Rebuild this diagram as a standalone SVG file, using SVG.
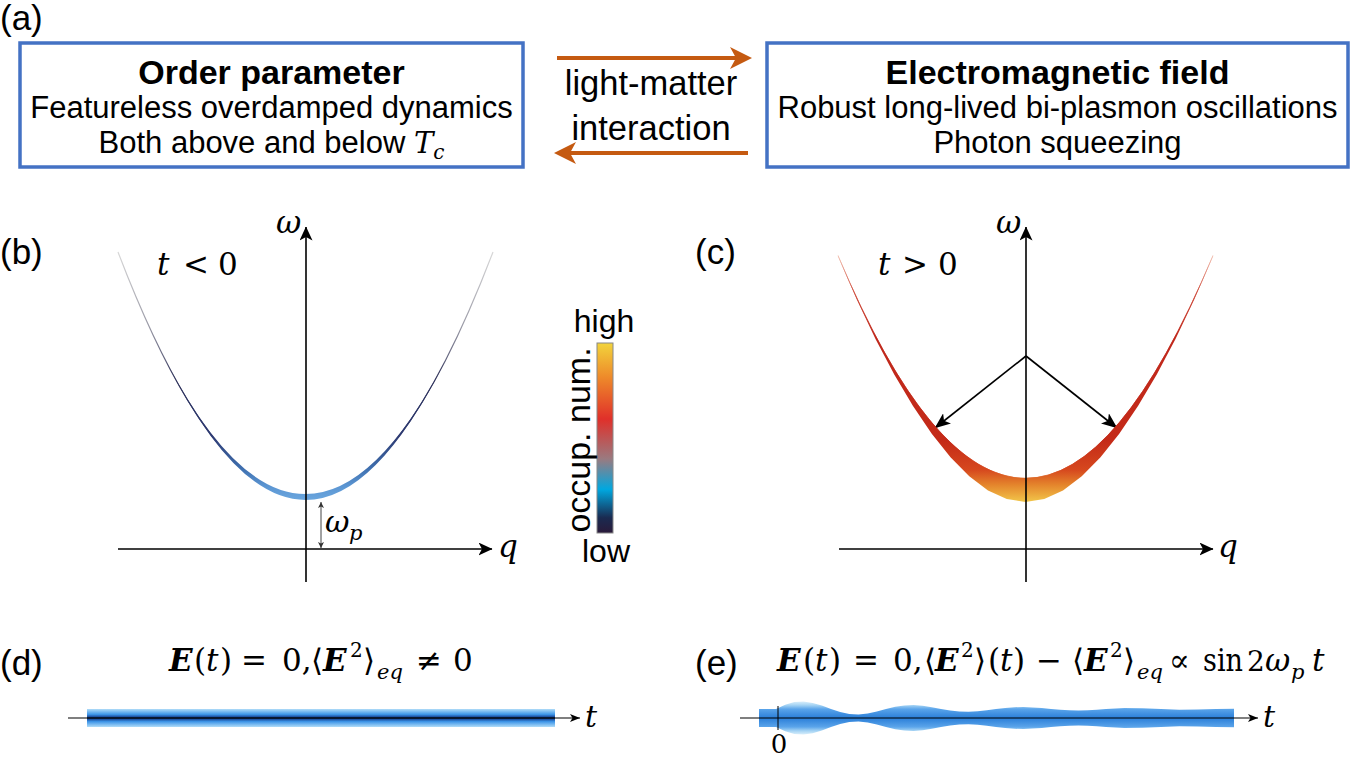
<svg xmlns="http://www.w3.org/2000/svg" width="1352" height="757" viewBox="0 0 1352 757">
<style>
.box{fill:#fff;stroke:#4472c4;stroke-width:3.5}
.sans{font-family:"Liberation Sans",Arial,sans-serif;fill:#000}
.math{font-family:"DejaVu Serif","Liberation Serif",serif;fill:#000}
.it{font-style:italic}
.bi{font-style:italic;font-weight:bold}
.ax{stroke:#000;stroke-width:1.6;fill:none}
.lab{font-size:35px}
.orange{stroke:#c55a11;stroke-width:4;fill:none}
</style>
<defs>
<marker id="ah" viewBox="0 0 14 13" refX="13.5" refY="6.5" markerWidth="14" markerHeight="13" orient="auto" markerUnits="userSpaceOnUse"><path d="M0,0 L14,6.5 L0,13 L3.5,6.5 Z" fill="#000"/></marker>
<marker id="ah2" viewBox="0 0 16 13" refX="15.5" refY="6.5" markerWidth="16" markerHeight="13" orient="auto" markerUnits="userSpaceOnUse"><path d="M0,0 L16,6.5 L0,13 L4,6.5 Z" fill="#000"/></marker>
<marker id="ahs" viewBox="0 0 6 6" refX="6" refY="3" markerWidth="6" markerHeight="6" orient="auto-start-reverse" markerUnits="userSpaceOnUse"><path d="M0,0 L6,3 L0,6 L1.5,3 Z" fill="#333"/></marker>
<marker id="aht" viewBox="0 0 10 8" refX="10" refY="4" markerWidth="10" markerHeight="8" orient="auto" markerUnits="userSpaceOnUse"><path d="M0,0 L10,4 L0,8 L2.5,4 Z" fill="#000"/></marker>
<linearGradient id="gb-line" gradientUnits="userSpaceOnUse" x1="0" y1="252" x2="0" y2="497">
<stop offset="0" stop-color="#d8d8d8"/><stop offset="0.3" stop-color="#9a9aa6"/><stop offset="0.55" stop-color="#34365c"/><stop offset="0.8" stop-color="#2c3a70"/><stop offset="1" stop-color="#5b95d2"/>
</linearGradient>
<linearGradient id="gb-fill" gradientUnits="userSpaceOnUse" x1="0" y1="359" x2="0" y2="500">
<stop offset="0" stop-color="#2b2d55"/><stop offset="0.55" stop-color="#2d3a72"/><stop offset="0.78" stop-color="#3f70b0"/><stop offset="0.9" stop-color="#5b95d2"/><stop offset="1" stop-color="#6aa6de"/>
</linearGradient>
<linearGradient id="gc" gradientUnits="userSpaceOnUse" x1="0" y1="255" x2="0" y2="502">
<stop offset="0" stop-color="#f2c0b0"/><stop offset="0.14" stop-color="#d05040"/><stop offset="0.34" stop-color="#c0281c"/><stop offset="0.75" stop-color="#c42a18"/><stop offset="0.87" stop-color="#d6481e"/><stop offset="0.93" stop-color="#e4842c"/><stop offset="1" stop-color="#f2c64a"/>
</linearGradient>
<linearGradient id="gbar" x1="0" y1="0" x2="0" y2="1">
<stop offset="0" stop-color="#f2d43c"/><stop offset="0.18" stop-color="#ee8a2a"/><stop offset="0.4" stop-color="#e0302a"/><stop offset="0.61" stop-color="#9a7a80"/><stop offset="0.77" stop-color="#00a8e0"/><stop offset="0.92" stop-color="#1a2a50"/><stop offset="1" stop-color="#2a1a3a"/>
</linearGradient>
<linearGradient id="gd" gradientUnits="userSpaceOnUse" x1="0" y1="709" x2="0" y2="727">
<stop offset="0" stop-color="#b0dcf8"/><stop offset="0.3" stop-color="#3d95e8"/><stop offset="0.44" stop-color="#1a4a9a"/><stop offset="0.5" stop-color="#0a1530"/><stop offset="0.56" stop-color="#1a4a9a"/><stop offset="0.7" stop-color="#3d95e8"/><stop offset="1" stop-color="#b0dcf8"/>
</linearGradient>
<linearGradient id="ge" gradientUnits="userSpaceOnUse" x1="0" y1="701" x2="0" y2="735">
<stop offset="0" stop-color="#e0f2fc"/><stop offset="0.12" stop-color="#a6d4f4"/><stop offset="0.24" stop-color="#5aa4ea"/><stop offset="0.5" stop-color="#2a7ed8"/><stop offset="0.76" stop-color="#5aa4ea"/><stop offset="0.88" stop-color="#a6d4f4"/><stop offset="1" stop-color="#e0f2fc"/>
</linearGradient>
</defs>
<rect width="1352" height="757" fill="#fff"/>

<text class="sans lab" x="0" y="30">(a)</text>

<g id="order-parameter">
<rect class="box" x="20" y="43" width="503" height="124"/>
<text class="sans" x="271.5" y="84" text-anchor="middle" font-size="34" font-weight="bold">Order parameter</text>
<text class="sans" x="271.5" y="118" text-anchor="middle" font-size="31">Featureless overdamped dynamics</text>
<text class="sans" x="271.5" y="153" text-anchor="middle" font-size="31">Both above and below <tspan class="math it" font-size="29">T</tspan><tspan class="math it" font-size="20" dy="6">c</tspan></text>
</g>

<g id="em-field">
<rect class="box" x="767" y="43" width="581" height="124"/>
<text class="sans" x="1057.5" y="84" text-anchor="middle" font-size="34" font-weight="bold">Electromagnetic field</text>
<text class="sans" x="1057.5" y="118" text-anchor="middle" font-size="31">Robust long-lived bi-plasmon oscillations</text>
<text class="sans" x="1057.5" y="153" text-anchor="middle" font-size="31">Photon squeezing</text>
</g>

<g id="coupling-label">
<text class="sans" x="651" y="95" text-anchor="middle" font-size="34.5">light-matter</text>
<text class="sans" x="651" y="140" text-anchor="middle" font-size="34.5">interaction</text>
</g>

<g id="connectors">
<line class="orange" x1="557" y1="58" x2="738" y2="58"/>
<path d="M752,58 L730,47 L736,58 L730,69 Z" fill="#c55a11"/>
<line class="orange" x1="748" y1="153" x2="568" y2="153"/>
<path d="M554,153 L576,142 L570,153 L576,164 Z" fill="#c55a11"/>
<line x1="1026" y1="356" x2="935" y2="428" stroke="#000" stroke-width="1.6" marker-end="url(#ah2)"/>
<line x1="1026" y1="356" x2="1117" y2="428" stroke="#000" stroke-width="1.6" marker-end="url(#ah2)"/>
</g>

<g id="panel-b">
<text class="sans lab" x="0" y="264">(b)</text>
<path d="M118,252 Q305.5,742 493,252" fill="none" stroke="url(#gb-line)" stroke-width="1.2"/>
<path d="M164.9,359.2 Q305.5,628.8 446.1,359.2 Q305.5,640.8 164.9,359.2 Z" fill="url(#gb-fill)"/>
<line class="ax" x1="118" y1="549" x2="492" y2="549" marker-end="url(#ah)"/>
<line class="ax" x1="306" y1="582" x2="306" y2="227" marker-end="url(#ah)"/>
<line x1="321" y1="502" x2="321" y2="548" stroke="#444" stroke-width="1" marker-start="url(#ahs)" marker-end="url(#ahs)"/>
<text class="math it" x="276" y="233" font-size="31">ω</text>
<text class="math it" x="498" y="557" font-size="31">q</text>
<text class="math" y="275" font-size="31"><tspan class="it" x="157">t</tspan><tspan x="183">&lt;</tspan><tspan x="218">0</tspan></text>
<text class="math it" y="532" font-size="30"><tspan x="325">ω</tspan><tspan x="349" y="540" font-size="21">p</tspan></text>
</g>

<g id="colorbar">
<rect x="597" y="343" width="16" height="190" fill="url(#gbar)" stroke="#888" stroke-width="1"/>
<text class="sans" x="604" y="332" text-anchor="middle" font-size="32">high</text>
<text class="sans" x="606" y="562" text-anchor="middle" font-size="32">low</text>
<text class="sans" transform="translate(590,440) rotate(-90)" text-anchor="middle" font-size="34">occup. num.</text>
</g>

<g id="panel-c">
<text class="sans lab" x="695" y="264">(c)</text>
<path d="M838,255 Q1025.5,701 1213,255 L1213,256.26 L1194.25,299.58 L1175.5,338.92 L1156.75,374.40 L1138,406.03 L1119.25,433.74 L1100.5,457.30 L1081.75,476.34 L1063,490.41 L1044.25,499.07 L1025.5,502 L1006.75,499.07 L988,490.41 L969.25,476.34 L950.5,457.30 L931.75,433.74 L913,406.03 L894.25,374.40 L875.5,338.92 L856.75,299.58 L838,256.26 Z" fill="url(#gc)"/>
<path d="M838,255.6 Q1025.5,701 1213,255.6" fill="none" stroke="url(#gc)" stroke-width="0.8"/>
<line class="ax" x1="839" y1="549" x2="1213" y2="549" marker-end="url(#ah)"/>
<line class="ax" x1="1026" y1="582" x2="1026" y2="227" marker-end="url(#ah)"/>
<text class="math it" x="996" y="233" font-size="31">ω</text>
<text class="math it" x="1218" y="557" font-size="31">q</text>
<text class="math" y="275" font-size="31"><tspan class="it" x="878">t</tspan><tspan x="902">&gt;</tspan><tspan x="938">0</tspan></text>
</g>

<g id="panel-d">
<text class="sans lab" x="0" y="675">(d)</text>
<text class="math" y="671" font-size="31"><tspan class="bi" x="169">E</tspan><tspan x="194">(</tspan><tspan class="it" x="206">t</tspan><tspan x="220">)</tspan><tspan x="241">=</tspan><tspan x="282">0,</tspan><tspan x="311">⟨</tspan><tspan class="bi" x="323">E</tspan><tspan x="350" y="657" font-size="20">2</tspan><tspan x="363" y="671">⟩</tspan><tspan class="it" x="377" y="679" font-size="21">eq</tspan><tspan x="416" y="671">≠</tspan><tspan x="453">0</tspan></text>
<rect x="87" y="709" width="468" height="18" fill="url(#gd)"/>
<line x1="68" y1="718" x2="580" y2="718" stroke="#000" stroke-width="1.2" marker-end="url(#aht)"/>
<text class="math it" x="585" y="727" font-size="30">t</text>
</g>

<g id="panel-e">
<text class="sans lab" x="695" y="675">(e)</text>
<text class="math" y="671" font-size="31"><tspan class="bi" x="777">E</tspan><tspan x="803">(</tspan><tspan class="it" x="815">t</tspan><tspan x="829">)</tspan><tspan x="853">=</tspan><tspan x="893">0,</tspan><tspan x="924">⟨</tspan><tspan class="bi" x="935">E</tspan><tspan x="961" y="657" font-size="20">2</tspan><tspan x="974" y="671">⟩</tspan><tspan x="988">(</tspan><tspan class="it" x="1000">t</tspan><tspan x="1013">)</tspan><tspan x="1036">−</tspan><tspan x="1072">⟨</tspan><tspan class="bi" x="1084">E</tspan><tspan x="1110" y="657" font-size="20">2</tspan><tspan x="1123" y="671">⟩</tspan><tspan class="it" x="1137" y="679" font-size="21">eq</tspan><tspan x="1169" y="671">∝</tspan><tspan x="1203" textLength="40" lengthAdjust="spacingAndGlyphs">sin</tspan><tspan x="1247" font-size="28">2</tspan><tspan class="it" x="1265">ω</tspan><tspan class="it" x="1291" y="679" font-size="21">p</tspan><tspan class="it" x="1312" y="671">t</tspan></text>
<path d="M759,709 L776,709 L785.2,704.8 L794.3,702.1 L803.5,701.5 L812.7,702.9 L821.8,705.6 L831,709 L840.2,712 L849.3,713.9 L858.5,714.4 L867.7,713.4 L876.8,711.4 L886,709 L895.2,706.8 L904.3,705.5 L913.5,705.1 L922.7,705.8 L931.8,707.3 L941,709 L950.2,710.6 L959.3,711.6 L968.5,711.8 L977.7,711.3 L986.8,710.3 L996,709 L1005.2,707.9 L1014.3,707.2 L1023.5,707 L1032.7,707.4 L1041.8,708.1 L1051,709 L1060.2,709.8 L1069.3,710.3 L1078.5,710.4 L1087.7,710.2 L1096.8,709.7 L1106,709 L1124.3,708.1 L1142.7,708.2 L1161,709 L1179.3,709.7 L1197.7,709.6 L1216,709 L1234,708.7 L1234,727.3 L1216,727 L1197.7,726.4 L1179.3,726.3 L1161,727 L1142.7,727.8 L1124.3,727.9 L1106,727 L1096.8,726.3 L1087.7,725.8 L1078.5,725.6 L1069.3,725.7 L1060.2,726.2 L1051,727 L1041.8,727.9 L1032.7,728.6 L1023.5,729 L1014.3,728.8 L1005.2,728.1 L996,727 L986.8,725.7 L977.7,724.7 L968.5,724.2 L959.3,724.4 L950.2,725.4 L941,727 L931.8,728.7 L922.7,730.2 L913.5,730.9 L904.3,730.5 L895.2,729.2 L886,727 L876.8,724.6 L867.7,722.6 L858.5,721.6 L849.3,722.1 L840.2,724 L831,727 L821.8,730.4 L812.7,733.2 L803.5,734.5 L794.3,733.9 L785.2,731.2 L776,727 L759,727 Z" fill="url(#ge)"/>
<line x1="740" y1="718" x2="1258" y2="718" stroke="#000" stroke-width="1.2" marker-end="url(#aht)"/>
<line x1="778" y1="706" x2="778" y2="730" stroke="#000" stroke-width="1"/>
<text class="math" x="779" y="753" text-anchor="middle" font-size="26">0</text>
<text class="math it" x="1263" y="727" font-size="30">t</text>
</g>
</svg>
